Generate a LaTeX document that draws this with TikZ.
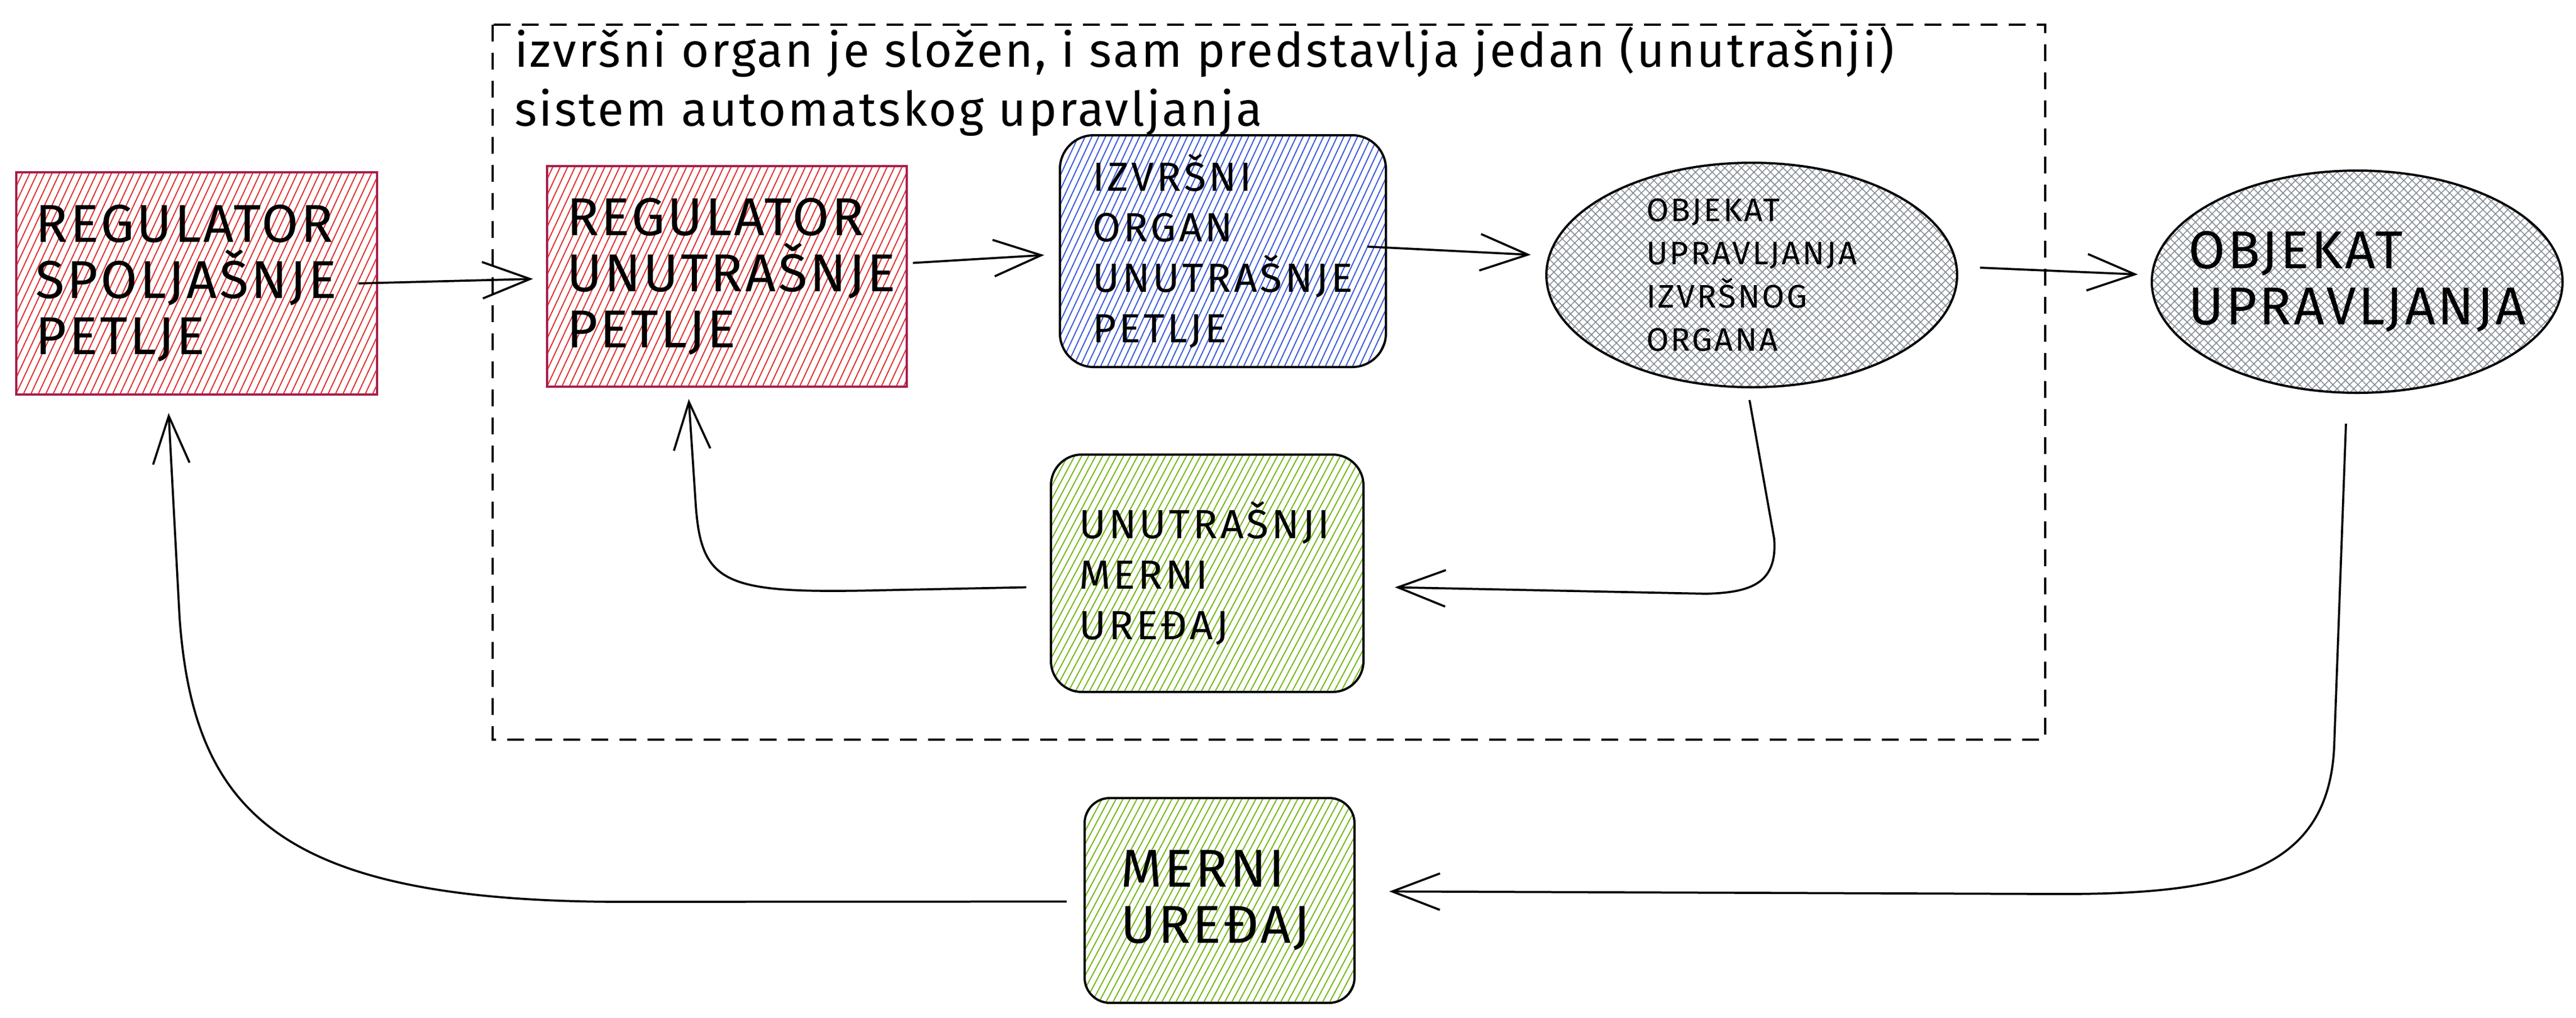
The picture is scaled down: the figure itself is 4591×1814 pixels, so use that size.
\documentclass[tikz,border=0pt]{standalone}
\usepackage{fontspec}
\setmainfont{Fira Sans}
\usetikzlibrary{shapes.geometric,arrows.meta,patterns.meta}
\definecolor{hatchred}{HTML}{E03131}
\definecolor{edgered}{HTML}{A61E4D}
\definecolor{hatchblue}{HTML}{3B5BDB}
\definecolor{hatchgreen}{HTML}{74B816}
\definecolor{hatchgrey}{HTML}{868E96}
\newcommand{\bigtxt}{\fontsize{19}{20}\selectfont\addfontfeature{LetterSpace=4.5}}
\newcommand{\midtxt}{\fontsize{14.5}{18}\selectfont\addfontfeature{LetterSpace=7}}
\newcommand{\smalltxt}{\fontsize{11.6}{15.4}\selectfont\addfontfeature{LetterSpace=6}}

\tikzset{
  regbox/.style={rectangle, draw=edgered, line width=0.8pt, align=left, inner xsep=7pt,
    pattern={Lines[angle=65,distance=2.4pt,line width=0.4pt]}, pattern color=hatchred, font=\bigtxt},
  bluebox/.style={rectangle, draw, line width=0.8pt, rounded corners=12pt, align=left,
    pattern={Lines[angle=65,distance=2.2pt,line width=0.4pt]}, pattern color=hatchblue, font=\midtxt},
  greenbox/.style={rectangle, draw, line width=0.8pt, rounded corners=11pt, align=left,
    pattern={Lines[angle=62,distance=2.2pt,line width=0.4pt]}, pattern color=hatchgreen},
  objell/.style={ellipse, draw, line width=0.8pt, align=left,
    pattern={Hatch[angle=45,distance=2.1pt,line width=0.33pt]}, pattern color=hatchgrey},
  arr/.style={-{Straight Barb[length=17pt,width=13pt]}, line width=0.75pt}
}

\begin{document}
\begin{tikzpicture}[x=0.2pt, y=-0.2pt]
\useasboundingbox (0,0) rectangle (4591,1814);

\draw[line width=0.9pt, dash pattern=on 6pt off 4pt] (878,44) rectangle (3645,1318);
\node[anchor=north west, inner sep=0pt, align=left, font=\fontsize{17}{21}\selectfont\addfontfeature{LetterSpace=4.5}] (naslov) at (916,47)
  {izvršni organ je složen, i sam predstavlja jedan (unutrašnji)\\sistem automatskog upravljanja};

\node[regbox, minimum width=128.6pt, minimum height=79.2pt, text width=114.6pt] (spreg) at (350.5,505)
  {REGULATOR\\SPOLJAŠNJE\\PETLJE};
\node[regbox, minimum width=128.2pt, minimum height=78.6pt, text width=114.2pt] (unreg) at (1295.5,492.5)
  {REGULATOR\\UNUTRAŠNJE\\PETLJE};
\node[bluebox, minimum width=116.2pt, minimum height=82.6pt, inner xsep=11.6pt, text width=93pt] (izvorg) at (2179.5,447.5)
  {IZVRŠNI\\ORGAN\\UNUTRAŠNJE\\PETLJE};
\node[objell, minimum width=146.4pt, minimum height=80pt, inner sep=-4pt, font=\smalltxt] (objizv) at (3122,490)
  {OBJEKAT\\UPRAVLJANJA\\IZVRŠNOG\\ORGANA};
\node[objell, minimum width=146.4pt, minimum height=79.2pt, inner xsep=-9pt, inner ysep=-2pt, font=\bigtxt] (obj) at (4201,502)
  {OBJEKAT\\UPRAVLJANJA};
\node[greenbox, minimum width=111.4pt, minimum height=84.6pt, inner xsep=10pt, text width=91.4pt, font=\midtxt] (unmer) at (2151.5,1021.5)
  {UNUTRAŠNJI\\MERNI\\UREĐAJ};
\node[greenbox, rounded corners=9pt, minimum width=96.2pt, minimum height=73pt, inner xsep=12.8pt, text width=70.6pt, font=\bigtxt] (mer) at (2173.5,1604.5)
  {MERNI\\UREĐAJ};

\draw[arr] ([xshift=-6.8pt]spreg.east) -- ([xshift=-4.6pt,yshift=-0.9pt]unreg.west);
\draw[arr] ([xshift=1.8pt,yshift=4.8pt]unreg.east) -- ([xshift=-5.4pt,yshift=-1.4pt]izvorg.west);
\draw[arr] ([xshift=-6.8pt,yshift=1.6pt]izvorg.east) -- ([xshift=-5.4pt,yshift=7.2pt]objizv.west);
\draw[arr] ([xshift=8pt,yshift=2.6pt]objizv.east) -- ([xshift=-4.6pt,yshift=2.6pt]obj.west);

\draw[arr] ([xshift=-0.8pt,yshift=-4.4pt]objizv.south) -- (3162,960) .. controls (3168,1040) and (3120,1056) .. (3040,1058)
  -- ([xshift=11pt,yshift=-5pt]unmer.east);
\draw[arr] ([xshift=-8.6pt,yshift=-5pt]unmer.west) -- (1560,1052) .. controls (1290,1058) and (1250,1040) .. (1240,900)
  -- ([xshift=-13.6pt,yshift=-4pt]unreg.south);
\draw[arr] ([xshift=-4pt,yshift=-10.6pt]obj.south) -- (4160,1330) .. controls (4150,1560) and (3960,1595) .. (3650,1593)
  -- ([xshift=12pt,yshift=3.2pt]mer.east);
\draw[arr] ([xshift=-6pt,yshift=-0.4pt]mer.west) -- (1100,1607) .. controls (500,1605) and (345,1450) .. (320,1100)
  -- ([xshift=-10pt,yshift=-6.4pt]spreg.south);
\end{tikzpicture}
\end{document}
